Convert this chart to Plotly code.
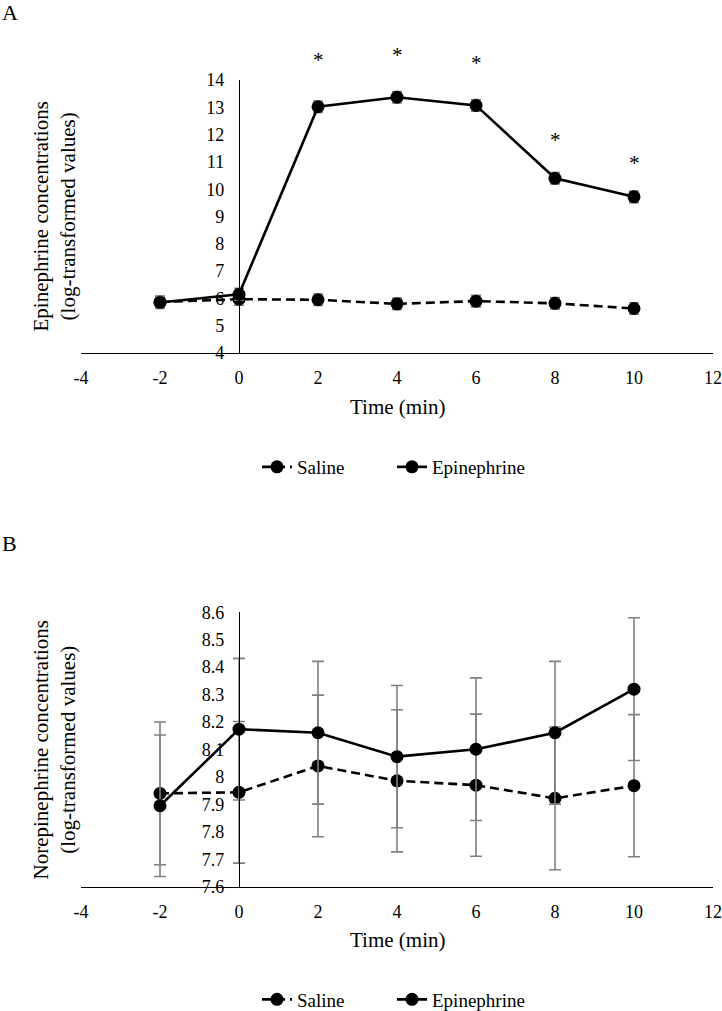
import plotly.graph_objects as go

# ---------------- data ----------------
time_min = [-2, 0, 2, 4, 6, 8, 10]

# Panel A: epinephrine concentrations (log-transformed)
a_saline = [5.87, 5.97, 5.95, 5.80, 5.90, 5.82, 5.63]
a_saline_err = [0.22, 0.22, 0.21, 0.21, 0.21, 0.21, 0.21]
a_epi = [5.85, 6.15, 13.02, 13.37, 13.07, 10.40, 9.72]
a_epi_err = [0.22, 0.22, 0.21, 0.21, 0.21, 0.21, 0.21]
a_star_x = [2, 4, 6, 8, 10]
a_star_y = [14.84, 15.03, 14.73, 11.91, 11.07]

# Panel B: norepinephrine concentrations (log-transformed)
b_saline = [7.94, 7.944, 8.04, 7.986, 7.970, 7.922, 7.968]
b_saline_err = [0.26, 0.258, 0.258, 0.259, 0.259, 0.26, 0.259]
b_epi = [7.895, 8.174, 8.161, 8.074, 8.101, 8.161, 8.32]
b_epi_err = [0.258, 0.258, 0.26, 0.259, 0.26, 0.26, 0.26]

x_ticks = [-4, -2, 0, 2, 4, 6, 8, 10, 12]
x_ticktext = ["-4", "-2", "0", "2", "4", "6", "8", "10", "12"]
a_yticks = [4, 5, 6, 7, 8, 9, 10, 11, 12, 13, 14]
b_yticks = [7.6, 7.7, 7.8, 7.9, 8.0, 8.1, 8.2, 8.3, 8.4, 8.5, 8.6]

# ---------------- layout geometry ----------------
W, H = 722, 1011
FONT = "Liberation Serif, Times New Roman, serif"
xdom = [81 / W, 713 / W]
ydom_a = [(H - 353) / H, (H - 80) / H]
ydom_b = [(H - 886.7) / H, (H - 612.3) / H]
xr = [-4, 12]
a_yr = [4, 14]
b_yr = [7.6, 8.6]
yaxis_pos = xdom[0] + (xdom[1] - xdom[0]) * (0 - xr[0]) / (xr[1] - xr[0])

fig = go.Figure()

def add_pair(xa, ya, sal, sal_err, epi, epi_err, legend, capw):
    fig.add_trace(go.Scatter(
        x=time_min, y=sal, name="Saline", mode="lines+markers",
        xaxis=xa, yaxis=ya, legend=legend, cliponaxis=False,
        line=dict(color="black", width=2.6, dash="9px,5px"),
        marker=dict(color="black", size=13),
        error_y=dict(type="data", array=sal_err, color="#808080", thickness=1.6, width=capw),
    ))
    fig.add_trace(go.Scatter(
        x=time_min, y=epi, name="Epinephrine", mode="lines+markers",
        xaxis=xa, yaxis=ya, legend=legend, cliponaxis=False,
        line=dict(color="black", width=2.6),
        marker=dict(color="black", size=13),
        error_y=dict(type="data", array=epi_err, color="#808080", thickness=1.6, width=capw),
    ))

add_pair("x", "y", a_saline, a_saline_err, a_epi, a_epi_err, "legend", 5)
add_pair("x2", "y2", b_saline, b_saline_err, b_epi, b_epi_err, "legend2", 6)

xax = dict(range=xr, tickvals=x_ticks, ticktext=x_ticktext, showgrid=False, zeroline=False,
           showline=True, linecolor="black", linewidth=1.4, ticks="", automargin=False,
           tickfont=dict(family=FONT, size=18, color="black"), ticklabelstandoff=8)
yax = dict(showgrid=False, zeroline=False, showline=True, linecolor="black",
           linewidth=1.4, ticks="", anchor="free", position=yaxis_pos, automargin=False,
           tickfont=dict(family=FONT, size=18, color="black"), ticklabelstandoff=11)

leg = dict(orientation="h", x=257 / W, xanchor="left", yanchor="middle",
           entrywidth=90, font=dict(family=FONT, size=19, color="black"),
           bgcolor="rgba(0,0,0,0)")

fig.update_layout(
    template="none",
    width=W, height=H, margin=dict(l=0, r=0, t=0, b=0, autoexpand=False),
    paper_bgcolor="white", plot_bgcolor="white",
    font=dict(family=FONT, color="black"),
    xaxis=dict(xax, domain=xdom, anchor="y"),
    yaxis=dict(yax, domain=ydom_a, range=a_yr, tickvals=a_yticks),
    xaxis2=dict(xax, domain=xdom, anchor="y2"),
    yaxis2=dict(yax, domain=ydom_b, range=b_yr, tickvals=b_yticks,
                ticktext=[("%g" % v) for v in b_yticks]),
    legend=dict(leg, y=(H - 467) / H),
    legend2=dict(leg, y=(H - 999.5) / H),
    showlegend=True,
)

# significance asterisks (positioned in axis-domain fractions from data values)
for sx, sy in zip(a_star_x, a_star_y):
    fig.add_annotation(text="*", xref="x", x=sx, yref="y domain",
                       y=(sy - a_yr[0]) / (a_yr[1] - a_yr[0]), yanchor="middle", yshift=-3,
                       showarrow=False, font=dict(family=FONT, size=21, color="black"))

ann_font = dict(family=FONT, size=21, color="black")
fig.add_annotation(text="Epinephrine concentrations<br>(log-transformed values)",
                   textangle=-90, xref="paper", x=54 / W, xanchor="center",
                   yref="y domain", y=0.5, yanchor="middle", showarrow=False, font=ann_font)
fig.add_annotation(text="Norepinephrine concentrations<br>(log-transformed values)",
                   textangle=-90, xref="paper", x=54 / W, xanchor="center",
                   yref="y2 domain", y=0.5, yanchor="middle", showarrow=False, font=ann_font)
fig.add_annotation(text="Time (min)", xref="x domain", x=0.5, yref="paper",
                   y=(H - 407) / H, yanchor="middle", showarrow=False, font=ann_font)
fig.add_annotation(text="Time (min)", xref="x2 domain", x=0.5, yref="paper",
                   y=(H - 940) / H, yanchor="middle", showarrow=False, font=ann_font)
fig.add_annotation(text="A", xref="paper", x=0, xanchor="left", yref="paper",
                   y=(H - 13) / H, yanchor="middle", showarrow=False,
                   font=dict(family=FONT, size=22, color="black"))
fig.add_annotation(text="B", xref="paper", x=0, xanchor="left", yref="paper",
                   y=(H - 543) / H, yanchor="middle", showarrow=False,
                   font=dict(family=FONT, size=22, color="black"))

fig.write_html("out.html", config={"displayModeBar": False},
               post_script="document.body.style.margin='0';document.body.style.overflow='hidden';")
